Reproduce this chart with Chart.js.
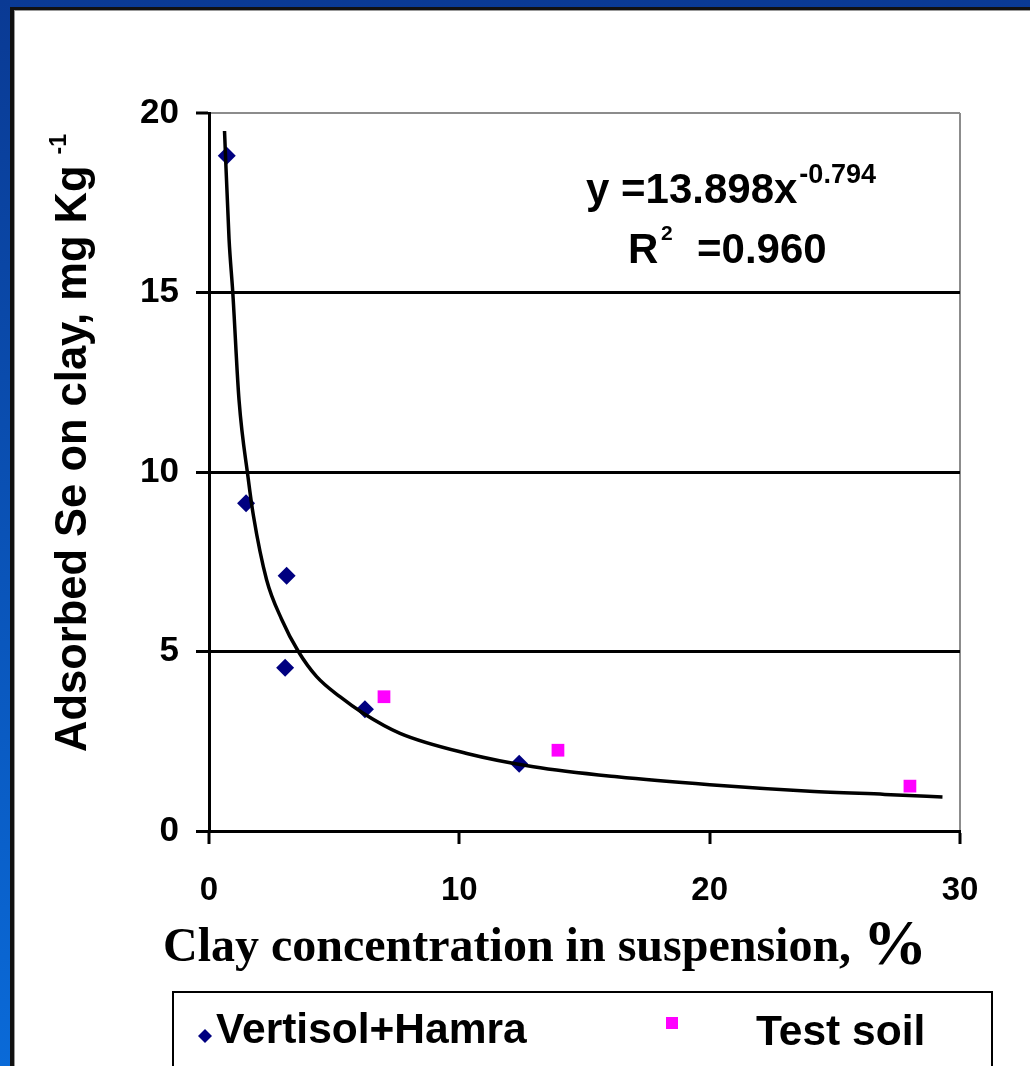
<!DOCTYPE html>
<html lang="en">
<head>
  <meta charset="UTF-8">
  <title>Adsorbed Se vs clay concentration</title>
  <script src="https://cdn.jsdelivr.net/npm/chart.js"></script>
  <style>
    html, body {
      margin: 0;
      padding: 0;
      width: 1030px;
      height: 1066px;
      overflow: hidden;
      background: linear-gradient(to bottom, #0a3a94, #0a6ad8);
    }

    #panel {
      position: absolute;
      left: 10px;
      top: 7px;
      width: 1040px;
      height: 1080px;
      background: #fff;
      border-left: 4px solid #111;
      border-top: 3px solid #111;
      box-shadow: inset 1px 1px 0 #999;
    }

    #chart {
      position: absolute;
      left: 0;
      top: 0;
    }
  </style>
</head>
<body>
  <div id="panel"></div>
  <canvas id="chart" width="1030" height="1066"></canvas>

  <script>
    // Vertisol+Hamra samples
    const vertisolX = [0.71, 1.48, 3.10, 3.04, 6.23, 12.39];
    const vertisolY = [18.81, 9.13, 7.11, 4.55, 3.39, 1.87];

    // Test soil samples
    const testX = [6.99, 13.94, 28.0];
    const testY = [3.74, 2.25, 1.25];

    // power trend line, y = 13.898x^-0.794
    const trendX = [0.62, 0.8, 0.95, 1.2, 1.57, 1.77, 2.3, 2.9, 3.57, 4.3, 5.23, 6.16, 7.63, 10.3, 12.96, 16.3, 20, 24, 27, 29.3];
    const trendY = [19.5, 16.5, 15.0, 12.0, 9.8, 8.8, 7.0, 5.9, 5.0, 4.3, 3.74, 3.28, 2.72, 2.16, 1.79, 1.51, 1.29, 1.11, 1.02, 0.95];

    const xTicks = [0, 10, 20, 30];
    const yTicks = [0, 5, 10, 15, 20];

    const toPoints = (xs, ys) => xs.map((x, i) => ({ x: x, y: ys[i] }));

    const sans = '"Liberation Sans", Arial, sans-serif';
    const serif = '"Liberation Serif", "Times New Roman", serif';

    // titles, equation and boxed legend
    const decorations = {
      id: 'decorations',
      afterDraw(chart) {
        const ctx = chart.ctx;
        ctx.save();
        ctx.fillStyle = '#000';
        ctx.textBaseline = 'alphabetic';
        ctx.textAlign = 'left';

        // y axis title, rotated
        ctx.save();
        ctx.translate(86, 752);
        ctx.rotate(-Math.PI / 2);
        ctx.font = 'bold 43.5px ' + sans;
        const yTitle = 'Adsorbed Se on clay, mg Kg';
        ctx.fillText(yTitle, 0, 0);
        const w = ctx.measureText(yTitle).width;
        ctx.font = 'bold 23px ' + sans;
        ctx.fillText('-1', w + 11, -20);
        ctx.restore();

        // x axis title
        ctx.font = 'bold 48px ' + serif;
        const xTitle = 'Clay concentration in suspension,';
        ctx.fillText(xTitle, 163, 961);
        const xw = ctx.measureText(xTitle).width;
        ctx.font = 'bold 64px ' + serif;
        ctx.fillText('%', 163 + xw + 12, 964);

        // fitted equation
        ctx.font = 'bold 42px ' + sans;
        const eq = 'y =13.898x';
        ctx.fillText(eq, 586, 203);
        const ew = ctx.measureText(eq).width;
        ctx.font = 'bold 27px ' + sans;
        ctx.fillText('-0.794', 586 + ew + 2, 183);

        ctx.font = 'bold 42px ' + sans;
        ctx.fillText('R', 628, 263);
        ctx.font = 'bold 21px ' + sans;
        ctx.fillText('2', 661, 240);
        ctx.font = 'bold 42px ' + sans;
        ctx.fillText('=0.960', 697, 263);

        // legend box
        ctx.lineWidth = 2;
        ctx.strokeStyle = '#000';
        ctx.strokeRect(173, 992, 819, 120);

        const ds = chart.data.datasets;
        ctx.fillStyle = ds[1].backgroundColor;
        ctx.beginPath();
        ctx.moveTo(205, 1029);
        ctx.lineTo(212, 1036);
        ctx.lineTo(205, 1043);
        ctx.lineTo(198, 1036);
        ctx.closePath();
        ctx.fill();

        ctx.fillStyle = ds[2].backgroundColor;
        ctx.fillRect(666, 1017, 12, 12);

        ctx.fillStyle = '#000';
        ctx.font = 'bold 42.5px ' + sans;
        ctx.fillText(ds[1].label, 216, 1043);
        ctx.fillText(ds[2].label, 756, 1045);

        ctx.restore();
      }
    };

    new Chart(document.getElementById('chart').getContext('2d'), {
      type: 'scatter',
      data: {
        datasets: [
          {
            type: 'line',
            label: 'Power fit',
            data: toPoints(trendX, trendY),
            borderColor: '#000',
            borderWidth: 3.5,
            pointRadius: 0,
            fill: false,
            cubicInterpolationMode: 'monotone',
            order: 0
          },
          {
            label: 'Vertisol+Hamra',
            data: toPoints(vertisolX, vertisolY),
            pointStyle: 'rectRot',
            pointRadius: 9,
            backgroundColor: '#000080',
            borderColor: '#000080',
            borderWidth: 0,
            order: 1
          },
          {
            label: 'Test soil',
            data: toPoints(testX, testY),
            pointStyle: 'rect',
            pointRadius: 9,
            backgroundColor: '#ff00ff',
            borderColor: '#ff00ff',
            borderWidth: 0,
            order: 2
          }
        ]
      },
      options: {
        responsive: false,
        animation: false,
        layout: {
          padding: { left: 0, top: 113, right: 70, bottom: 0 }
        },
        plugins: {
          legend: { display: false },
          tooltip: { enabled: false }
        },
        scales: {
          x: {
            type: 'linear',
            min: 0,
            max: 30,
            afterFit: scale => { scale.height = 235; },
            afterBuildTicks: scale => { scale.ticks = xTicks.map(v => ({ value: v })); },
            border: { color: '#000', width: 3 },
            grid: {
              color: c => c.tick && c.tick.value === 30 ? '#8c8c8c' : 'rgba(0,0,0,0)',
              lineWidth: 2,
              tickColor: '#000',
              tickWidth: 3,
              tickLength: 13
            },
            ticks: {
              color: '#000',
              padding: 27,
              maxRotation: 0,
              font: { family: sans, size: 33, weight: 'bold' }
            }
          },
          y: {
            type: 'linear',
            min: 0,
            max: 20,
            afterFit: scale => { scale.width = 209; },
            afterBuildTicks: scale => { scale.ticks = yTicks.map(v => ({ value: v })); },
            border: { color: '#000', width: 3 },
            grid: {
              color: c => c.tick && c.tick.value === 20 ? '#8c8c8c' : '#000',
              lineWidth: c => c.tick && c.tick.value === 20 ? 2 : 3,
              tickColor: '#000',
              tickWidth: 3,
              tickLength: 13
            },
            ticks: {
              color: '#000',
              padding: 17,
              font: { family: sans, size: 35, weight: 'bold' }
            }
          }
        }
      },
      plugins: [decorations]
    });
  </script>
</body>
</html>
